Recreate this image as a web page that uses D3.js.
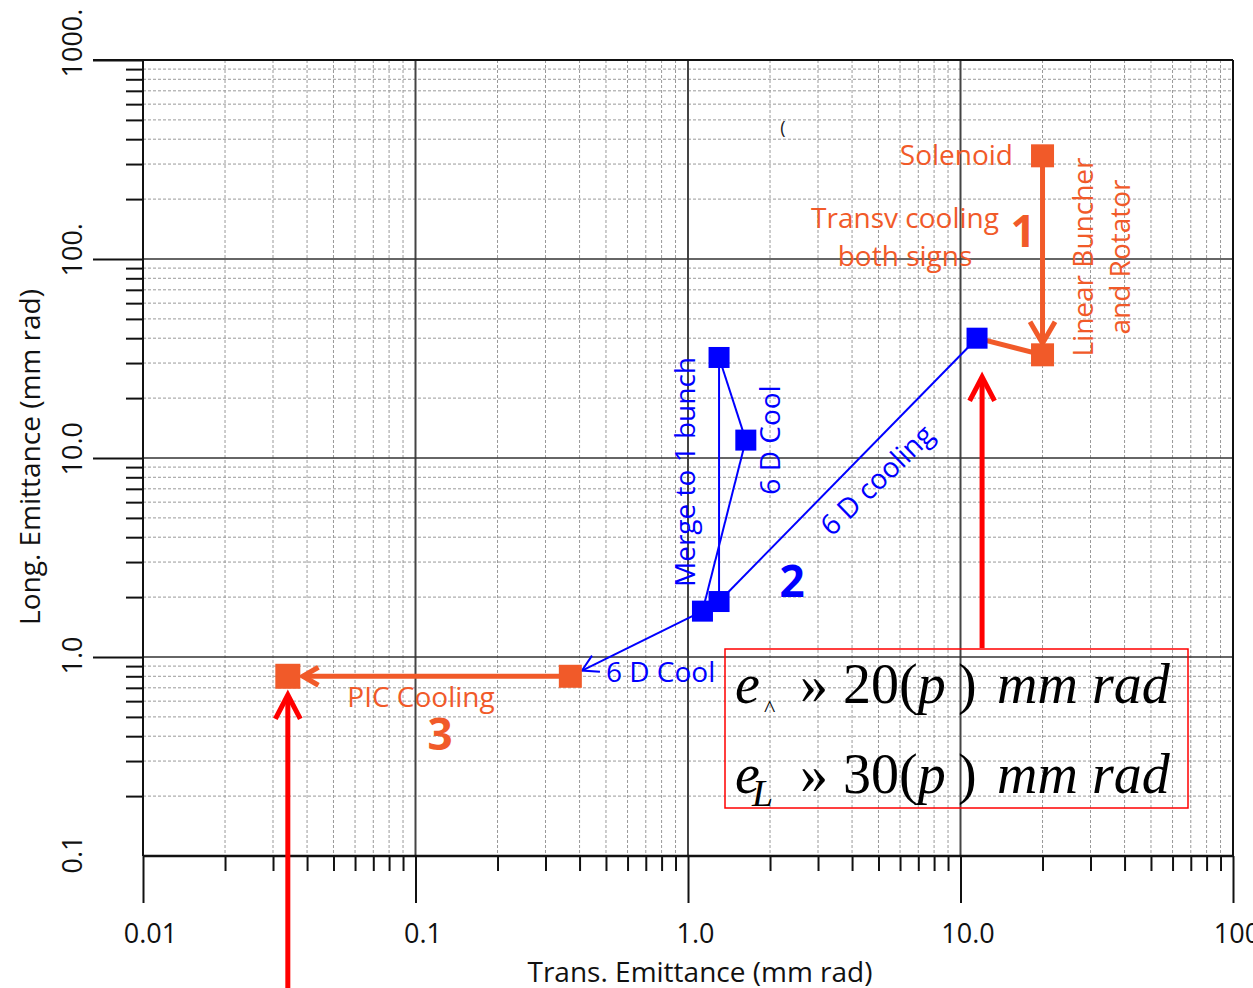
<!DOCTYPE html>
<html>
<head>
<meta charset="utf-8">
<script src="https://cdn.jsdelivr.net/npm/d3@7"></script>
<style>
  body { margin: 0; background: #fff; }
  svg { display: block; }
</style>
</head>
<body>
<script>
const width = 1253;
const height = 988;
const sans = '"Open Sans", sans-serif';
const serif = '"Liberation Serif", "Times New Roman", serif';

// emittance at each stage of the cooling chain (mm rad)
const stages = ["Solenoid", "Buncher/Rotator", "6D cooling in", "Merge in", "Merge out", "6D Cool", "6D Cool out", "PIC in", "PIC out"];
const transEmit = [20, 20, 11.5, 1.30, 1.30, 1.63, 1.13, 0.37, 0.034];
const longEmit = [330, 33, 40, 1.9, 32, 12.3, 1.7, 0.80, 0.80];
const stageGroup = ["front", "front", "six", "six", "six", "six", "six", "front", "front"];

// links between stages
const segFrom = [0, 1, 2, 3, 4, 5, 6, 7];
const segTo = [1, 2, 3, 4, 5, 6, 7, 8];
const segGroup = ["front", "front", "six", "six", "six", "six", "six", "front"];
const segArrow = [true, false, false, false, false, false, true, true];

// axes
const xMajor = [0.01, 0.1, 1, 10, 100];
const xLabels = ["0.01", "0.1", "1.0", "10.0", "100."];
const yMajor = [0.1, 1, 10, 100, 1000];
const yLabels = ["0.1", "1.0", "10.0", "100.", "1000."];

const orange = "#F15A29";
const blue = "#0000FF";
const red = "#FF0000";
const color = d3.scaleOrdinal().domain(["front", "six"]).range([orange, blue]);

const x = d3.scaleLog().domain([0.01, 100]).range([143, 1233]);
const y = d3.scaleLog().domain([0.1, 1000]).range([856, 60]);

const minors = decades => decades.flatMap(d => d3.range(2, 10).map(k => d * k));
const xMinor = minors([0.01, 0.1, 1, 10]);
const yMinor = minors([0.1, 1, 10, 100]);

const svg = d3.select('body').append('svg')
  .attr('width', width)
  .attr('height', height)
  .style('font-family', sans);

// grid
const grid = svg.append('g');
grid.selectAll('.vminor')
  .data(xMinor)
  .enter().append('line')
    .attr('x1', d => x(d)).attr('x2', d => x(d))
    .attr('y1', y(1000)).attr('y2', y(0.1))
    .attr('stroke', '#999')
    .attr('stroke-width', 1)
    .attr('stroke-dasharray', '3,2');
grid.selectAll('.hminor')
  .data(yMinor)
  .enter().append('line')
    .attr('y1', d => y(d)).attr('y2', d => y(d))
    .attr('x1', x(0.01)).attr('x2', x(100))
    .attr('stroke', '#999')
    .attr('stroke-width', 1)
    .attr('stroke-dasharray', '3,2');
grid.selectAll('.vmajor')
  .data([0.1, 1, 10])
  .enter().append('line')
    .attr('x1', d => x(d)).attr('x2', d => x(d))
    .attr('y1', y(1000)).attr('y2', y(0.1))
    .attr('stroke', '#444')
    .attr('stroke-width', 2);
grid.selectAll('.hmajor')
  .data([1, 10, 100])
  .enter().append('line')
    .attr('y1', d => y(d)).attr('y2', d => y(d))
    .attr('x1', x(0.01)).attr('x2', x(100))
    .attr('stroke', '#333')
    .attr('stroke-width', 1.6);

// frame: top and right
svg.append('line')
  .attr('x1', x(0.01) - 50).attr('x2', x(100))
  .attr('y1', y(1000)).attr('y2', y(1000))
  .attr('stroke', '#111').attr('stroke-width', 2);
svg.append('line')
  .attr('x1', x(100)).attr('x2', x(100))
  .attr('y1', y(1000)).attr('y2', y(0.1))
  .attr('stroke', '#111').attr('stroke-width', 2);

// y axis
const yAxisG = svg.append('g').attr('transform', `translate(${x(0.01)},0)`);
yAxisG.append('g')
  .call(d3.axisLeft(y).tickValues(yMinor).tickSize(17).tickFormat(''));
yAxisG.append('g')
  .call(d3.axisLeft(y).tickValues(yMajor).tickSize(50).tickFormat((d, i) => yLabels[i]))
  .call(g => g.selectAll('.tick').filter(d => d === 0.1).select('line').remove())
  .call(g => g.selectAll('text')
    .attr('transform', 'rotate(-90)')
    .attr('x', -17).attr('y', -61).attr('dy', 0)
    .attr('text-anchor', 'start'));
yAxisG.selectAll('.domain').remove();
yAxisG.append('line')
  .attr('x1', 0).attr('x2', 0)
  .attr('y1', y(1000)).attr('y2', y(0.1));

// x axis
const xAxisG = svg.append('g').attr('transform', `translate(0,${y(0.1)})`);
xAxisG.append('g')
  .call(d3.axisBottom(x).tickValues(xMinor).tickSize(15).tickFormat(''));
xAxisG.append('g')
  .call(d3.axisBottom(x).tickValues(xMajor).tickSize(47).tickFormat((d, i) => xLabels[i]))
  .call(g => g.selectAll('text')
    .attr('x', 7).attr('y', 87).attr('dy', 0));
xAxisG.selectAll('.domain').remove();
xAxisG.append('line')
  .attr('x1', x(0.01)).attr('x2', x(100));

svg.selectAll('.tick line').attr('stroke', '#111').attr('stroke-width', 2);
yAxisG.selectAll(':scope > line').attr('stroke', '#111').attr('stroke-width', 2);
xAxisG.selectAll(':scope > line').attr('stroke', '#111').attr('stroke-width', 2.5);
svg.selectAll('.tick text')
  .style('font-family', sans)
  .style('font-size', '27px')
  .attr('fill', '#111');
svg.selectAll('.tick').filter(function() { return this.parentNode.getAttribute('font-family'); })
  .each(function() {});
svg.selectAll('g[font-family]').attr('font-family', null).attr('font-size', null);

// axis titles
svg.append('text')
  .attr('x', 700).attr('y', 982)
  .attr('text-anchor', 'middle')
  .style('font-size', '28px')
  .attr('fill', '#111')
  .text('Trans. Emittance (mm rad)');
svg.append('text')
  .attr('transform', 'translate(40,457) rotate(-90)')
  .attr('text-anchor', 'middle')
  .style('font-size', '28px')
  .attr('fill', '#111')
  .text('Long. Emittance (mm rad)');

// arrow helper: open chevron head
function arrowHead(g, x1, y1, x2, y2, col, w, head, ang) {
  const a = Math.atan2(y2 - y1, x2 - x1);
  const p = [-1, 1].map(s => [x2 - head * Math.cos(a + s * ang), y2 - head * Math.sin(a + s * ang)]);
  g.append('path')
    .attr('d', `M${p[0][0]},${p[0][1]}L${x2},${y2}L${p[1][0]},${p[1][1]}`)
    .attr('fill', 'none')
    .attr('stroke', col)
    .attr('stroke-width', w)
    .attr('stroke-linejoin', 'miter');
}

// stage links
const links = svg.append('g');
const tipGap = [11.5, 0, 0, 0, 0, 0, 13, 15];
const headLen = [25, 0, 0, 0, 0, 0, 18, 18];
segFrom.forEach((f, i) => {
  const t = segTo[i];
  const x1 = x(transEmit[f]), y1 = y(longEmit[f]);
  let x2 = x(transEmit[t]), y2 = y(longEmit[t]);
  const col = color(segGroup[i]);
  const w = segGroup[i] === 'front' ? 5 : 2;
  if (segArrow[i]) {
    const a = Math.atan2(y2 - y1, x2 - x1);
    x2 -= tipGap[i] * Math.cos(a);
    y2 -= tipGap[i] * Math.sin(a);
  }
  links.append('line')
    .attr('x1', x1).attr('y1', y1)
    .attr('x2', x2).attr('y2', y2)
    .attr('stroke', col)
    .attr('stroke-width', w);
  if (segArrow[i]) arrowHead(links, x1, y1, x2, y2, col, w, headLen[i], Math.PI / 6);
});

// stage markers
const side = (d, i) => stageGroup[i] === 'six' ? 21 : (i === 8 ? 25 : 23);
svg.append('g')
  .selectAll('rect')
  .data(stages)
  .enter().append('rect')
    .attr('x', (d, i) => x(transEmit[i]) - side(d, i) / 2)
    .attr('y', (d, i) => y(longEmit[i]) - side(d, i) / 2)
    .attr('width', side)
    .attr('height', side)
    .attr('fill', (d, i) => color(stageGroup[i]));

// labels
const label = (txt, px, py, col, opts = {}) => {
  const t = svg.append('text')
    .attr('transform', `translate(${px},${py})` + (opts.rot ? ` rotate(${opts.rot})` : ''))
    .attr('text-anchor', opts.anchor || 'start')
    .style('font-size', (opts.size || 28) + 'px')
    .style('font-weight', opts.weight || 'normal')
    .attr('fill', col)
    .text(txt);
  if (opts.dy) t.attr('dy', opts.dy);
  return t;
};
label('Solenoid', 1013, 165, orange, { anchor: 'end' });
label('Transv cooling', 905, 228, orange, { anchor: 'middle' });
label('both signs', 905, 266, orange, { anchor: 'middle' });
label('1', 1023, 247, orange, { anchor: 'middle', size: 44, weight: 'bold' });
label('Linear Buncher', 1093, 257, orange, { anchor: 'middle', rot: -90 });
label('and Rotator', 1130, 257, orange, { anchor: 'middle', rot: -90 });
label('Merge to 1 bunch', 695, 472, blue, { anchor: 'middle', rot: -90 });
label('6 D Cool', 780, 440, blue, { anchor: 'middle', rot: -90 });
label('6 D cooling', 877, 480, blue, { anchor: 'middle', rot: -44, dy: '0.35em' });
label('2', 792, 597, blue, { anchor: 'middle', size: 44, weight: 'bold' });
label('6 D Cool', 606, 682, blue);
label('PIC Cooling', 421, 707, orange, { anchor: 'middle' });
label('3', 440, 750, orange, { anchor: 'middle', size: 44, weight: 'bold' });
label('(', 783, 134, '#222', { anchor: 'middle', size: 18 });

// red pointers
const pointers = svg.append('g');
[[x(12), 648, 377], [x(0.034), height, 695]].forEach(([px, y0, y1]) => {
  pointers.append('line')
    .attr('x1', px).attr('x2', px)
    .attr('y1', y0).attr('y2', y1 + 3)
    .attr('stroke', red)
    .attr('stroke-width', 5);
  arrowHead(pointers, px, y0, px, y1, red, 5, 27, 0.48);
});

// emittance box
const box = svg.append('g');
box.append('rect')
  .attr('x', 725).attr('y', 649)
  .attr('width', 463).attr('height', 159)
  .attr('fill', 'none')
  .attr('stroke', red)
  .attr('stroke-width', 1.5);

const formula = (num, sub, subItalic, subSize, subX, subY, baseY) => {
  const t = box.append('text')
    .style('font-family', serif)
    .style('font-size', '56px')
    .attr('fill', '#000')
    .attr('y', baseY);
  t.append('tspan').attr('x', 735).style('font-style', 'italic').text('e');
  t.append('tspan').attr('x', subX).attr('y', subY)
    .style('font-size', subSize + 'px')
    .style('font-style', subItalic ? 'italic' : 'normal')
    .text(sub);
  t.append('tspan').attr('x', 800).attr('y', baseY).text('»');
  t.append('tspan').attr('x', 843).text(num + '(');
  t.append('tspan').style('font-style', 'italic').text('p');
  t.append('tspan').attr('x', 958).text(')');
  t.append('tspan').attr('x', 997).style('font-style', 'italic').text('mm rad');
};
formula('20', '^', false, 24, 764, 716, 703);
formula('30', 'L', true, 38, 752, 806, 793);
</script>
</body>
</html>
